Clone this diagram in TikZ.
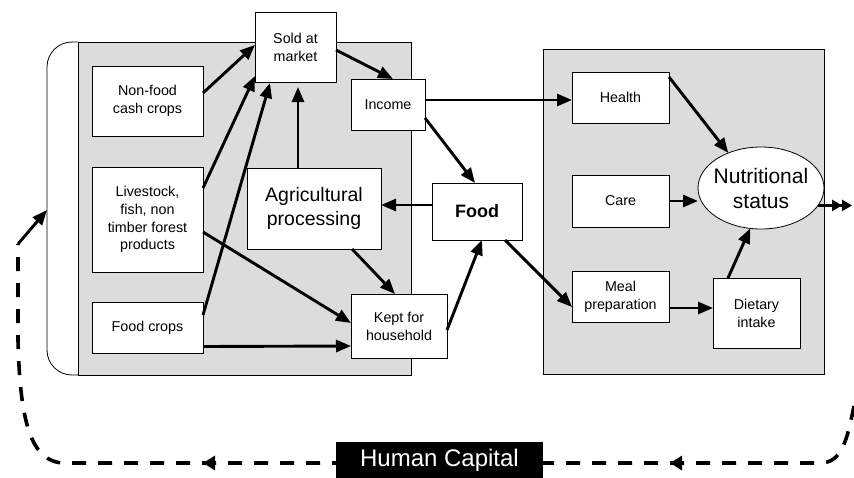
\documentclass[tikz,border=0pt]{standalone}
\usepackage{fontspec}
\setmainfont{Liberation Sans}
\usetikzlibrary{arrows.meta,calc,shapes.geometric}
\definecolor{panel}{RGB}{220,220,220}
\begin{document}
\begin{tikzpicture}[x=1pt,y=-1pt,
  box/.style={draw=black,line width=0.8pt,fill=white,inner sep=0pt,outer sep=0pt,align=center,font=\fontsize{14.3}{17.8}\selectfont},
  arr/.style={line width=2.9pt,-{Triangle[length=15pt,width=12pt]}},
  dbl/.style={line width=3pt,-{Triangle[length=10pt,width=11pt]Triangle[length=10pt,width=11pt]}},
  loopline/.style={line width=3.6pt,dash pattern=on 14pt off 12pt},
  looptip/.style={line width=3.6pt,-{Triangle[length=12pt,width=14pt]}},
  panelbox/.style={draw=black,line width=0.8pt,fill=panel}
]
\useasboundingbox (0,0) rectangle (854,477);

% bracket and panels
\draw[line width=0.8pt,fill=white,rounded corners=25pt] (78,42) -- (47,42) -- (47,375) -- (78,375);
\draw[panelbox] (78,42) rectangle (411,375);
\draw[panelbox] (543,49) rectangle (824,374);

% left nodes
\node[box,minimum width=111pt,minimum height=70pt] (nonfood) at (147.5,101) {Non-food\\cash crops};
\node[box,minimum width=111pt,minimum height=105pt] (livestock) at (147.5,219.5) {Livestock,\\fish, non\\timber forest\\products};
\node[box,minimum width=111pt,minimum height=51pt] (foodcrops) at (147.5,327.5) {Food crops};
\node[box,minimum width=81pt,minimum height=70pt] (sold) at (295.5,47) {Sold at\\market};
\node[box,minimum width=74pt,minimum height=51pt] (income) at (388,104.5) {Income};
\node[box,minimum width=134pt,minimum height=81pt,font=\fontsize{19.5}{23.5}\selectfont] (agri) at (314,208.5) {Agricultural\\processing};
\node[box,minimum width=90pt,minimum height=57pt,font=\fontsize{18}{22}\selectfont\bfseries] (food) at (477,211.5) {Food};
\node[box,minimum width=96pt,minimum height=64pt] (kept) at (399,326) {Kept for\\household};

% right nodes
\node[box,minimum width=97pt,minimum height=51pt] (health) at (620.5,97.5) {Health};
\node[box,minimum width=97pt,minimum height=52pt] (care) at (620.5,201) {Care};
\node[box,minimum width=97pt,minimum height=51pt] (meal) at (620.5,296.5) {Meal\\preparation};
\node[box,minimum width=87pt,minimum height=70pt] (dietary) at (756.5,313) {Dietary\\intake};
\node[draw=black,line width=0.8pt,fill=white,ellipse,minimum width=126pt,minimum height=82pt,inner sep=0pt,outer sep=0pt] (ns) at (761,188) {};
\node[align=center,font=\fontsize{21}{25}\selectfont] (nstext) at (ns) {Nutritional\\status};

% connectors
\draw[arr] ([yshift=8pt]nonfood.east) -- ([yshift=2pt]sold.west);
\draw[arr] ([yshift=31.5pt]livestock.east) -- ([yshift=6pt]sold.south west);
\draw[arr] ([yshift=12.5pt]foodcrops.east) -- ([xshift=15pt,yshift=-1pt]sold.south west);
\coordinate (a4) at ([xshift=-16pt]agri.north);
\draw[arr] (a4) -- ([yshift=-5pt]a4 |- sold.south);
\draw[arr] ([yshift=-3pt]sold.east) -- ([xshift=5pt]income.north);
\draw[arr] ([yshift=4.5pt]income.east) -- ([yshift=-2.5pt]health.west);
\draw[arr] ([yshift=-13.5pt]income.east) -- ([xshift=43pt]food.north west);
\draw[arr] ([yshift=6.5pt]food.west) -- ([yshift=3.5pt]agri.east);
\draw[arr] ([xshift=38pt]agri.south) -- ([xshift=-4pt]kept.north);
\draw[arr] ([yshift=-12.5pt]livestock.east) -- ([yshift=3pt]kept.west);
\draw[arr] ([yshift=-19pt]foodcrops.east) -- ([yshift=-20pt]kept.west);
\draw[arr] ([yshift=-4pt]kept.east) -- ([xshift=50pt]food.south west);
\draw[arr] ([xshift=-17pt]food.south east) -- ([yshift=-10.5pt]meal.west);
\draw[arr] ([yshift=-5pt]health.north east) -- (ns.133);
\draw[arr] (care.east) -- (care.east -| ns.west);
\draw[arr] ([yshift=-11.5pt]meal.east) -- ([yshift=5pt]dietary.west);
\draw[arr] ([xshift=-28.5pt]dietary.north) -- (ns.-105);
\draw[dbl] (ns.-17) -- ++(34,0);

% human capital loop
\coordinate (d0) at (854,406);
\coordinate (la) at (18,244);
\coordinate (bl) at (47,210);
\draw[loopline] (d0) .. controls (847,440) and (842,463) .. (820,463) -- (65,463) .. controls (30,463) and (20,420) .. (18,340) -- (la);
\coordinate (t1a) at (216,463);
\coordinate (t1b) at (203,463);
\coordinate (t2a) at (683,463);
\coordinate (t2b) at (670,463);
\draw[looptip] (t1a) -- (t1b);
\draw[looptip] (t2a) -- (t2b);
\draw[arr] (la) -- (bl);
\node[fill=black,text=white,minimum width=207pt,minimum height=36pt,inner sep=0pt,font=\fontsize{24}{28}\selectfont] (hc) at (439.5,460) {Human Capital};
\end{tikzpicture}
\end{document}
